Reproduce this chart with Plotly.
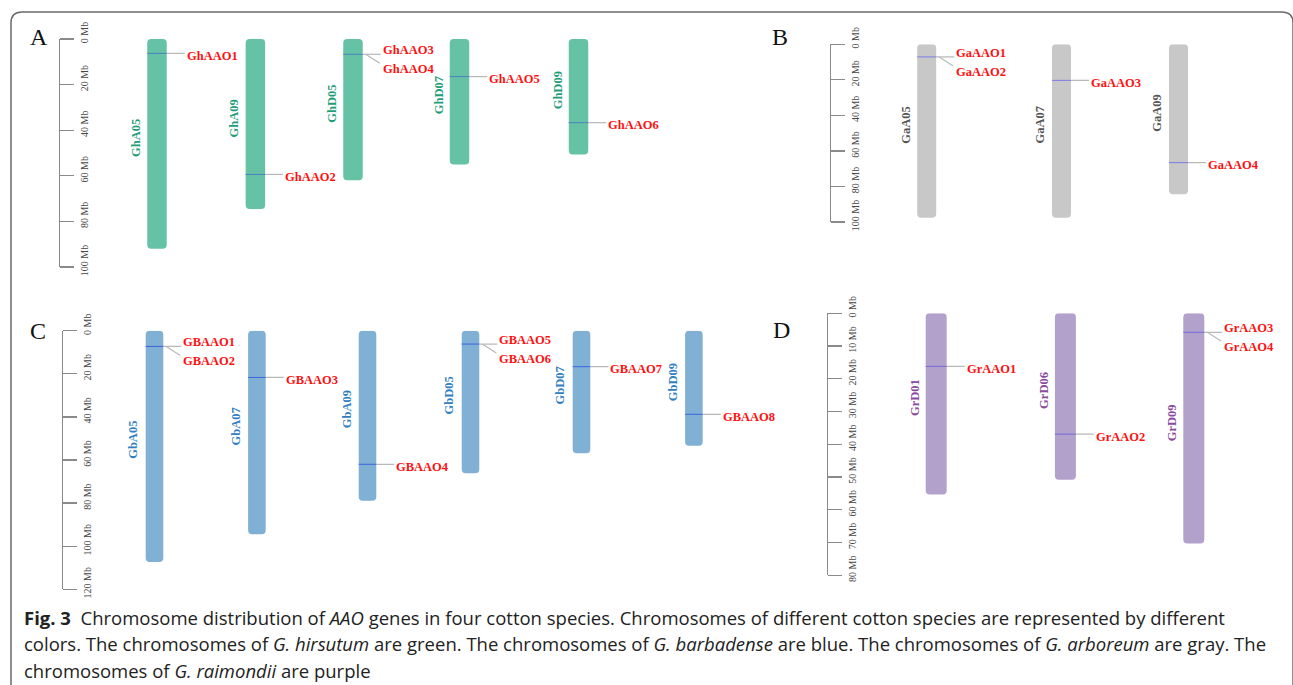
import plotly.graph_objects as go

# ---------------- data ----------------
# Panel A: G. hirsutum
a_chroms = ["GhA05", "GhA09", "GhD05", "GhD07", "GhD09"]
a_lengths = [92.0, 74.6, 62.0, 55.0, 50.7]
a_genes = ["GhAAO1", "GhAAO2", "GhAAO3", "GhAAO4", "GhAAO5", "GhAAO6"]
a_gene_chrom = ["GhA05", "GhA09", "GhD05", "GhD05", "GhD07", "GhD09"]
a_gene_pos = [6.3, 59.4, 6.7, 6.7, 16.5, 36.7]
a_ticks = [0, 20, 40, 60, 80, 100]

# Panel B: G. arboreum
b_chroms = ["GaA05", "GaA07", "GaA09"]
b_lengths = [97.6, 97.6, 84.4]
b_genes = ["GaAAO1", "GaAAO2", "GaAAO3", "GaAAO4"]
b_gene_chrom = ["GaA05", "GaA05", "GaA07", "GaA09"]
b_gene_pos = [7.1, 7.1, 20.3, 66.6]
b_ticks = [0, 20, 40, 60, 80, 100]

# Panel C: G. barbadense
c_chroms = ["GbA05", "GbA07", "GbA09", "GbD05", "GbD07", "GbD09"]
c_lengths = [107.3, 94.5, 78.9, 66.2, 56.9, 53.4]
c_genes = ["GBAAO1", "GBAAO2", "GBAAO3", "GBAAO4", "GBAAO5", "GBAAO6", "GBAAO7", "GBAAO8"]
c_gene_chrom = ["GbA05", "GbA05", "GbA07", "GbA09", "GbD05", "GbD05", "GbD07", "GbD09"]
c_gene_pos = [7.3, 7.3, 21.7, 62.0, 6.2, 6.2, 16.7, 38.8]
c_ticks = [0, 20, 40, 60, 80, 100, 120]

# Panel D: G. raimondii
d_chroms = ["GrD01", "GrD06", "GrD09"]
d_lengths = [55.3, 50.8, 70.3]
d_genes = ["GrAAO1", "GrAAO2", "GrAAO3", "GrAAO4"]
d_gene_chrom = ["GrD01", "GrD06", "GrD09", "GrD09"]
d_gene_pos = [16.2, 36.9, 5.8, 5.8]
d_ticks = [0, 10, 20, 30, 40, 50, 60, 70, 80]

caption_lines = [
    "<b>Fig. 3</b>  Chromosome distribution of <i>AAO</i> genes in four cotton species. Chromosomes of different cotton species are represented by different",
    "colors. The chromosomes of <i>G. hirsutum</i> are green. The chromosomes of <i>G. barbadense</i> are blue. The chromosomes of <i>G. arboreum</i> are gray. The",
    "chromosomes of <i>G. raimondii</i> are purple",
]

# ---------------- layout / style ----------------
W, H = 1293, 685
SERIF = "Liberation Serif, Times New Roman, serif"

panels = [
    dict(letter="A", letter_xy=(39, 37),
         chroms=a_chroms, lengths=a_lengths, genes=a_genes, gchrom=a_gene_chrom, gpos=a_gene_pos, ticks=a_ticks,
         centers=[157, 255.4, 353, 459.5, 578.5], width=19.5,
         scale_x=59, top_px=39, bot_px=267,
         fill="#66C2A5", name_col="#1E9E78", gene_line="#4C7FC0"),
    dict(letter="B", letter_xy=(780, 37.5),
         chroms=b_chroms, lengths=b_lengths, genes=b_genes, gchrom=b_gene_chrom, gpos=b_gene_pos, ticks=b_ticks,
         centers=[926.7, 1061.5, 1178.5], width=19,
         scale_x=830, top_px=44.3, bot_px=222,
         fill="#C8C8C8", name_col="#555555", gene_line="#7A7AE8"),
    dict(letter="C", letter_xy=(38, 331),
         chroms=c_chroms, lengths=c_lengths, genes=c_genes, gchrom=c_gene_chrom, gpos=c_gene_pos, ticks=c_ticks,
         centers=[154.5, 256.9, 367.5, 470.5, 581.5, 693.9], width=17.6,
         scale_x=61.7, top_px=330.7, bot_px=589.3,
         fill="#80B0D3", name_col="#2F80C2", gene_line="#3A66E0"),
    dict(letter="D", letter_xy=(781.5, 330.5),
         chroms=d_chroms, lengths=d_lengths, genes=d_genes, gchrom=d_gene_chrom, gpos=d_gene_pos, ticks=d_ticks,
         centers=[936.2, 1065.4, 1193.8], width=21,
         scale_x=827, top_px=313.3, bot_px=575.3,
         fill="#B2A1CB", name_col="#8A4A9E", gene_line="#7468E0"),
]

fig = go.Figure()
annotations = []
layout_axes = {}

for i, p in enumerate(panels, start=1):
    xa = "x" if i == 1 else f"x{i}"
    ya = "y" if i == 1 else f"y{i}"
    xkey = "xaxis" if i == 1 else f"xaxis{i}"
    ykey = "yaxis" if i == 1 else f"yaxis{i}"
    tmax = p["ticks"][-1]
    px_per_mb = (p["bot_px"] - p["top_px"]) / tmax

    layout_axes[xkey] = dict(range=[0, W], domain=[0, 1], visible=False, fixedrange=True,
                             anchor=ya, automargin=False)
    layout_axes[ykey] = dict(
        range=[tmax, 0], domain=[1 - p["bot_px"] / H, 1 - p["top_px"] / H],
        anchor="free", position=p["scale_x"] / W, side="right", automargin=False,
        showgrid=False, zeroline=False, showline=True, linecolor="#8a8a8a", linewidth=1.3,
        ticks="outside", ticklen=14, tickwidth=1.3, tickcolor="#8a8a8a",
        tickvals=p["ticks"], ticktext=[f"{t} Mb" for t in p["ticks"]], tickangle=-90,
        tickfont=dict(family=SERIF, size=10, color="#444444"), ticklabelstandoff=2,
        ticklabelshift=5,
        fixedrange=True,
    )

    # chromosomes
    fig.add_trace(go.Bar(
        x=p["centers"], y=p["lengths"], base=[0] * len(p["lengths"]), width=p["width"],
        marker=dict(color=p["fill"], cornerradius=4, line=dict(width=0)),
        xaxis=xa, yaxis=ya, showlegend=False, hoverinfo="skip",
    ))

    cmap = {c: (x, L) for c, x, L in zip(p["chroms"], p["centers"], p["lengths"])}

    # chromosome names
    for c in p["chroms"]:
        cx, L = cmap[c]
        annotations.append(dict(
            x=cx - 21, y=L / 2, xref=xa, yref=ya, yshift=6, text=f"<b>{c}</b>", textangle=-90,
            showarrow=False, font=dict(family=SERIF, size=12.5, color=p["name_col"]),
            xanchor="center", yanchor="middle"))

    # gene marks and labels
    gx, gy, lx, ly = [], [], [], []
    seen = {}
    for g, c, pos in zip(p["genes"], p["gchrom"], p["gpos"]):
        cx, L = cmap[c]
        left, right = cx - p["width"] / 2, cx + p["width"] / 2
        count = p["gchrom"].count(c) if p["gpos"].count(pos) > 1 else 1
        k = seen.get((c, pos), 0)
        seen[(c, pos)] = k + 1
        if k == 0:
            gx += [left, right, None]
            gy += [pos, pos, None]
        label_x = right + 18
        if count == 1:
            lx += [right, label_x, None]
            ly += [pos, pos, None]
            yshift = -2.5
        elif k == 0:
            lx += [right, label_x, None]
            ly += [pos, pos, None]
            yshift = 4
        else:
            lx += [right + 3, label_x - 1, None]
            ly += [pos, pos + 9 / px_per_mb, None]
            yshift = -15
        annotations.append(dict(
            x=label_x, y=pos, xref=xa, yref=ya, yshift=yshift, text=f"<b>{g}</b>",
            showarrow=False, font=dict(family=SERIF, size=12.5, color="#FF1010"),
            xanchor="left", yanchor="middle"))

    fig.add_trace(go.Scatter(x=lx, y=ly, mode="lines", line=dict(color="#B8B8B8", width=1.2),
                             xaxis=xa, yaxis=ya, showlegend=False, hoverinfo="skip"))
    fig.add_trace(go.Scatter(x=gx, y=gy, mode="lines", line=dict(color=p["gene_line"], width=1),
                             xaxis=xa, yaxis=ya, showlegend=False, hoverinfo="skip"))

    # panel letter
    annotations.append(dict(
        x=p["letter_xy"][0] / W, y=1 - p["letter_xy"][1] / H, xref="paper", yref="paper",
        text=p["letter"], showarrow=False, font=dict(family=SERIF, size=24, color="#111111"),
        xanchor="center", yanchor="middle"))

# caption
for j, line in enumerate(caption_lines):
    annotations.append(dict(
        x=22 / W, y=1 - (617 + 26.5 * j) / H, xref="paper", yref="paper", text=line,
        showarrow=False, font=dict(family="Open Sans, Lato, sans-serif", size=18.5, color="#222222"),
        xanchor="left", yanchor="middle", align="left"))

# outer frame (rounded top corners)
def px(x, y):
    return f"{x / W:.5f},{1 - y / H:.5f}"

frame = (f"M {px(11, 690)} L {px(11, 23)} Q {px(11, 12)} {px(22, 12)} "
         f"L {px(1282, 12)} Q {px(1293, 12)} {px(1293, 23)} L {px(1293, 690)}")

fig.update_layout(
    width=W, height=H, margin=dict(l=0, r=0, t=0, b=0, autoexpand=False),
    paper_bgcolor="white", plot_bgcolor="rgba(0,0,0,0)",
    barmode="overlay", showlegend=False,
    annotations=annotations,
    shapes=[dict(type="path", path=frame, xref="paper", yref="paper",
                 line=dict(color="#6a6a6a", width=1.5))],
    **layout_axes,
)

fig.write_html("out.html", config=dict(displayModeBar=False, staticPlot=True),
               post_script="document.body.style.margin='0';document.body.style.overflow='hidden';")
